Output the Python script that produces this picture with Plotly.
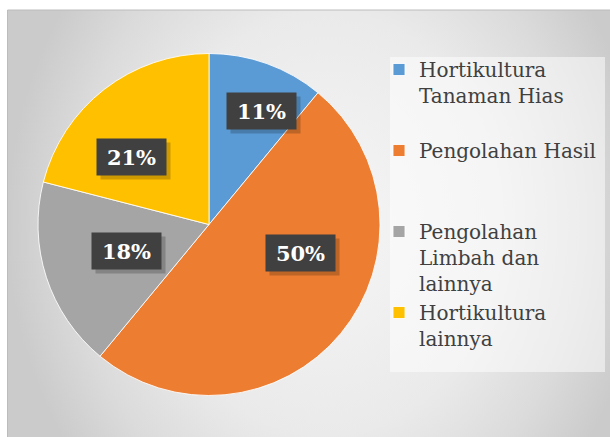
import math
import plotly.graph_objects as go

# ---- data ----
categories = ["Hortikultura Tanaman Hias", "Pengolahan Hasil",
              "Pengolahan Limbah dan lainnya", "Hortikultura lainnya"]
legend_labels = ["Hortikultura<br>Tanaman Hias<br>\u00a0",
                 "Pengolahan Hasil<br>\u00a0<br>\u00a0",
                 "Pengolahan<br>Limbah dan<br>lainnya",
                 "Hortikultura<br>lainnya"]
values = [11, 50, 18, 21]
colors = ["#5B9BD5", "#ED7D31", "#A5A5A5", "#FFC000"]

# ---- layout constants ----
W, H = 610, 437
PX0, PY_TOP = 7.5, 10          # panel left edge / top edge (px)
pie_x = [38 / W, 380 / W]
pie_y = [1 - 396 / H, 1 - 53 / H]
R_px = 171.5
label_rf = [0.73, 0.557, 0.504, 0.599]      # radial fraction for label boxes
label_shift = [5, -22, 0, -11]              # angular tweak (deg) for label boxes

fig = go.Figure()

# background panel with radial gradient (rect larger than panel, clipped by subplot)
fig.add_trace(go.Scatter(
    x=[PX0, 645, 645, PX0, PX0], y=[-170, -170, 597, 597, -170],
    mode="lines", fill="toself",
    line=dict(color="rgba(0,0,0,0)", width=0),
    fillgradient=dict(type="radial",
                      colorscale=[[0, "#f6f6f6"], [0.55, "#eaeaea"], [0.8, "#dbdbdb"], [1, "#cbcbcb"]]),
    hoverinfo="skip", showlegend=False,
))

fig.add_trace(go.Pie(
    labels=legend_labels, values=values, sort=False, direction="clockwise",
    rotation=0, marker=dict(colors=colors, line=dict(color="rgba(255,255,255,0.85)", width=1)),
    textinfo="none", hovertext=categories, hoverinfo="text+percent",
    domain=dict(x=pie_x, y=pie_y),
))

# data labels as boxed annotations, positioned from slice mid-angles
total = sum(values)
cx = (pie_x[0] + pie_x[1]) / 2
cy = (pie_y[0] + pie_y[1]) / 2
cum = 0
annotations = []
for v, rf, sh in zip(values, label_rf, label_shift):
    mid = (cum + v / 2) / total * 360 + sh
    cum += v
    a = math.radians(mid)
    px = cx + rf * R_px * math.sin(a) / W
    py = cy + rf * R_px * math.cos(a) / H
    txt = f"{round(v / total * 100)}%"
    common = dict(x=px, y=py, xref="paper", yref="paper", showarrow=False,
                  xanchor="center", yanchor="middle", width=63, height=30, borderpad=3)
    annotations.append(dict(common, text=" ", bgcolor="rgba(0,0,0,0.2)", xshift=4, yshift=-4))
    annotations.append(dict(common, text=f"<b>{txt}</b>", bgcolor="#404040",
                            font=dict(family="DejaVu Serif", size=21, color="white")))

fig.update_layout(
    width=W, height=H,
    margin=dict(l=0, r=0, t=0, b=0),
    paper_bgcolor="white", plot_bgcolor="rgba(0,0,0,0)",
    xaxis=dict(range=[PX0, W], domain=[PX0 / W, 1], visible=False, fixedrange=True),
    yaxis=dict(range=[0, H - PY_TOP], domain=[0, 1 - PY_TOP / H], visible=False, fixedrange=True),
    showlegend=True,
    legend=dict(x=379 / W, xanchor="left", y=1 - 50 / H, yanchor="top",
                valign="top", bgcolor="rgba(0,0,0,0)",
                font=dict(family="DejaVu Serif", size=20, color="#404040"),
                itemwidth=30),
    shapes=[
        dict(type="rect", xref="paper", yref="paper",
             x0=390 / W, x1=605 / W, y0=1 - 372 / H, y1=1 - 57 / H,
             fillcolor="rgba(255,255,255,0.5)", line=dict(width=0), layer="above"),
        dict(type="rect", xref="paper", yref="paper",
             x0=PX0 / W, x1=1.01, y0=-0.01, y1=1 - PY_TOP / H,
             fillcolor="rgba(0,0,0,0)", line=dict(color="#bcbcbc", width=1), layer="above"),
    ],
    annotations=annotations,
)

fig.write_html("out.html", config={"displayModeBar": False},
               post_script="document.body.style.margin='0';")
